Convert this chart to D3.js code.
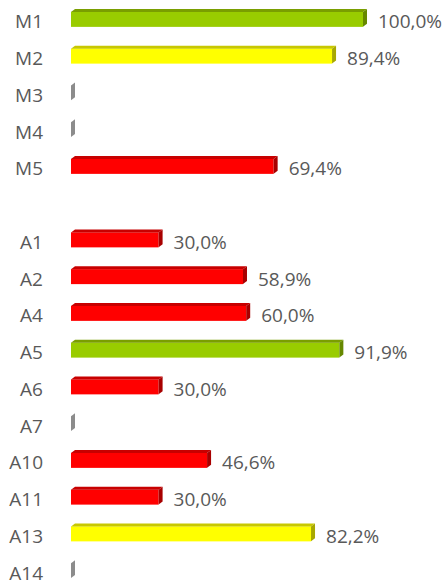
<!DOCTYPE html>
<html>
<head>
<meta charset="utf-8">
<script src="https://cdn.jsdelivr.net/npm/d3@7"></script>
<style>
  body { margin: 0; background: #fff; }
  svg text { font-family: "Open Sans", sans-serif; fill: #595959; }
</style>
</head>
<body>
<svg id="chart" width="444" height="583"></svg>
<script>
// categories top to bottom, " " is the empty gap row
const categories = ["M1", "M2", "M3", "M4", "M5", " ", "A1", "A2", "A4", "A5", "A6", "A7", "A10", "A11", "A13", "A14"];
const values = [100.0, 89.4, 0, 0, 69.4, null, 30.0, 58.9, 60.0, 91.9, 30.0, 0, 46.6, 30.0, 82.2, 0];

// colour thresholds: below 80 red, 80-90 yellow, 90+ green
const limits = [80, 90];
const fronts = ["#ff0000", "#ffff00", "#99cc00"];
const tops = ["#c80000", "#c8c800", "#7a9e00"];
const sides = ["#a80000", "#a8a800", "#668800"];

const svg = d3.select("#chart");
const dx = 4, dy = 3;   // depth of the fake 3d

const x = d3.scaleLinear().domain([0, 100]).range([71, 363]);
const y = d3.scaleBand()
    .domain(categories)
    .range([1, 589])
    .paddingInner(0.592)
    .paddingOuter(0.296);

const front = d3.scaleThreshold().domain(limits).range(fronts);
const topc = d3.scaleThreshold().domain(limits).range(tops);
const side = d3.scaleThreshold().domain(limits).range(sides);

const locale = d3.formatLocale({decimal: ",", thousands: ".", grouping: [3], currency: ["", ""]});
const fmt = locale.format(".1f");

const rows = categories.map((c, i) => ({cat: c, v: values[i]})).filter(d => d.v !== null);

const bars = svg.append("g").selectAll("g")
    .data(rows)
    .join("g");

bars.filter(d => d.v > 0).append("rect")
    .attr("x", x(0))
    .attr("y", d => y(d.cat))
    .attr("width", d => x(d.v) - x(0))
    .attr("height", y.bandwidth())
    .attr("fill", d => front(d.v));

bars.filter(d => d.v > 0).append("path")
    .attr("d", d => {
        const t = y(d.cat), x0 = x(0), x1 = x(d.v);
        return `M${x0},${t}L${x0 + dx},${t - dy}L${x1 + dx},${t - dy}L${x1},${t}Z`;
    })
    .attr("fill", d => topc(d.v));

bars.append("path")
    .attr("d", d => {
        const t = y(d.cat), b = t + y.bandwidth(), x1 = x(d.v);
        return `M${x1},${t}L${x1 + dx},${t - dy}L${x1 + dx},${b - dy}L${x1},${b}Z`;
    })
    .attr("fill", d => d.v > 0 ? side(d.v) : "#8c8c8c");

bars.filter(d => d.v > 0).append("text")
    .attr("x", d => x(d.v) + 15)
    .attr("y", d => y(d.cat) + y.bandwidth() / 2 + 9)
    .attr("font-size", 19)
    .text(d => fmt(d.v) + "%");

const yAxis = svg.append("g")
    .attr("transform", "translate(46,3)")
    .call(d3.axisLeft(y).tickSize(0).tickPadding(3));
yAxis.select(".domain").remove();
yAxis.selectAll("text")
    .attr("font-size", 19)
    .attr("font-family", "Open Sans, sans-serif")
    .attr("fill", "#595959");
</script>
</body>
</html>
